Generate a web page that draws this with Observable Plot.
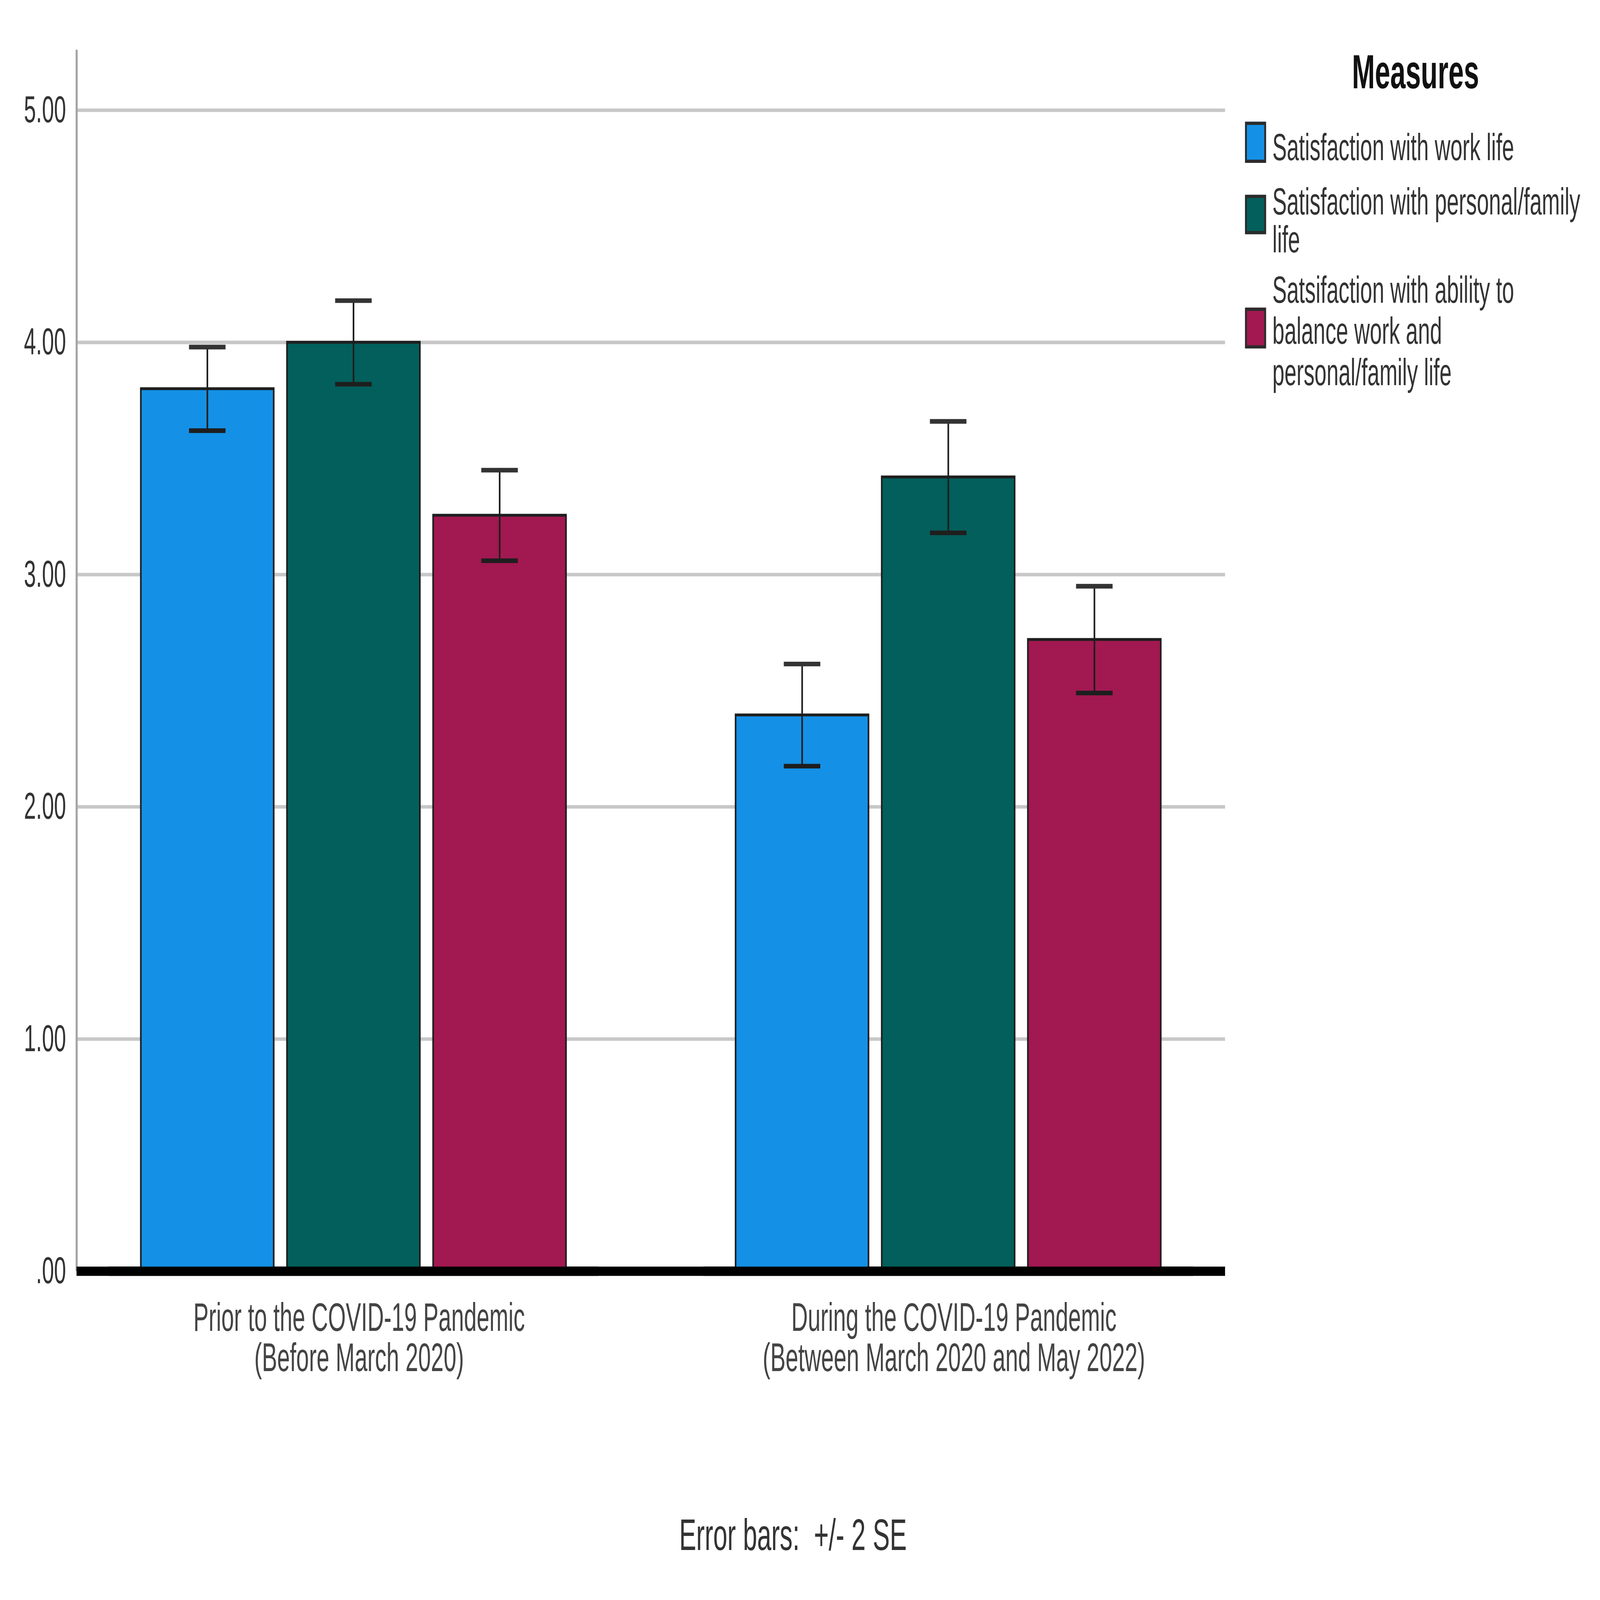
<!DOCTYPE html>
<html>
<head>
<meta charset="utf-8">
<script src="https://cdn.jsdelivr.net/npm/d3@7"></script>
<script src="https://cdn.jsdelivr.net/npm/@observablehq/plot@0.6"></script>
<style>
  html, body { margin: 0; padding: 0; background: #fff; overflow: hidden; }
  #stage { position: relative; overflow: hidden; }
  #wrap { position: absolute; left: 0; top: 0; width: 7839px; height: 4509px; transform-origin: 0 0; font-family: "Liberation Sans", Arial, sans-serif; background: #fff; }
  #wrap > svg { position: absolute; left: 0; top: 0; max-width: none !important; }
  .legend-title { position: absolute; left: 6535px; width: 800px; top: 135px; text-align: center; font-weight: bold; font-size: 135px; line-height: 135px; color: #111; }
  .swatch { position: absolute; left: 6100px; width: 103px; box-sizing: border-box; border: 9px solid #2b2b2b; }
  .legend-text { position: absolute; left: 6234px; font-size: 106px; color: #333; white-space: pre-line; }
  .caption { position: absolute; left: 2885px; width: 2000px; top: 4262px; text-align: center; font-size: 125px; line-height: 125px; color: #333; white-space: pre; }
</style>
</head>
<body>
<div id="stage"><div id="wrap"></div></div>
<script>
// ---- data ----
const periods = ["Prior", "During"];
const periodLabels = [
  "Prior to the COVID-19 Pandemic\n(Before March 2020)",
  "During the COVID-19 Pandemic\n(Between March 2020 and May 2022)"
];
const measures = [
  "Satisfaction with work life",
  "Satisfaction with personal/family\nlife",
  "Satsifaction with ability to\nbalance work and\npersonal/family life"
];
const colors = ["#1491e6", "#025f5b", "#a21851"];
const priorMeans = [3.80, 4.00, 3.255];
const duringMeans = [2.395, 3.42, 2.72];
const priorErr = [0.18, 0.18, 0.195];   // 2 SE
const duringErr = [0.22, 0.24, 0.23];   // 2 SE
const yTicks = [0, 1, 2, 3, 4, 5];
const yMax = 5.26;
const captionText = "Error bars:  +/- 2 SE";
const legendTitle = "Measures";

// ---- table built from arrays ----
const rows = [];
periods.forEach((p, i) => {
  const m = i === 0 ? priorMeans : duringMeans;
  const e = i === 0 ? priorErr : duringErr;
  measures.forEach((k, j) => rows.push({period: p, measure: k, mean: m[j], lo: m[j] - e[j], hi: m[j] + e[j]}));
});

// ---- layout (design space 7839 x 4509) ----
const W = 6100, H = 3990;
const mL = 375, mR = 98, mT = 140, mB = H - 3582;
const font = "'Liberation Sans', Arial, sans-serif";
const ink = "#1e1e1e";

const bg = Plot.plot({
  width: W, height: H,
  marginLeft: mL, marginRight: mR, marginTop: mT, marginBottom: mB,
  style: {fontFamily: font, background: "transparent", overflow: "visible"},
  x: {domain: [0, 1], axis: null},
  y: {domain: [0, yMax], axis: null},
  marks: [
    Plot.ruleY(yTicks.filter(d => d > 0), {stroke: "#c8c8c8", strokeWidth: 10}),
    Plot.ruleX([0], {stroke: "#a3a3a3", strokeWidth: 10}),
    Plot.axisY(yTicks, {
      tickSize: 0, tickPadding: 52, fontSize: 106, fill: "#333",
      tickFormat: d => d === 0 ? ".00" : d.toFixed(2), label: null
    }),
    Plot.ruleY([0], {stroke: "#000", strokeWidth: 26})
  ]
});

const fg = Plot.plot({
  width: W, height: H,
  marginLeft: mL, marginRight: mR, marginTop: mT, marginBottom: mB,
  style: {fontFamily: font, background: "transparent", overflow: "visible"},
  fx: {domain: periods, paddingInner: 0.1764, paddingOuter: 0.0537, label: null},
  x: {domain: measures, paddingInner: 0.0907, paddingOuter: 0.219, axis: null},
  y: {domain: [0, yMax], axis: null},
  color: {domain: measures, range: colors},
  marks: [
    Plot.barY(rows, {fx: "period", x: "measure", y: "mean", fill: "measure", stroke: ink, strokeWidth: 8}),
    Plot.ruleX(rows, {fx: "period", x: "measure", y1: "lo", y2: "hi", stroke: ink, strokeWidth: 8}),
    Plot.tickY(rows, {fx: "period", x: "measure", y: "hi", insetLeft: 236, insetRight: 236, stroke: "#333", strokeWidth: 13}),
    Plot.tickY(rows, {fx: "period", x: "measure", y: "lo", insetLeft: 236, insetRight: 236, stroke: ink, strokeWidth: 13}),
    Plot.ruleY([0], {stroke: "#000", strokeWidth: 26}),
    Plot.axisFx({
      anchor: "bottom", tickSize: 0, tickPadding: 88, fontSize: 112, lineHeight: 1.01,
      fill: "#444", label: null, dx: 27,
      tickFormat: p => periodLabels[periods.indexOf(p)]
    })
  ]
});

const wrap = document.getElementById("wrap");
wrap.appendChild(bg);
wrap.appendChild(fg);

// ---- legend (HTML) ----
const title = document.createElement("div");
title.className = "legend-title";
title.textContent = legendTitle;
wrap.appendChild(title);

const swatchBoxes = [[343, 116], [549, 111], [867, 115]];
const textBoxes = [[358, 112], [514, 107], [758, 116]];
measures.forEach((m, i) => {
  const s = document.createElement("div");
  s.className = "swatch";
  s.style.top = swatchBoxes[i][0] + "px";
  s.style.height = swatchBoxes[i][1] + "px";
  s.style.background = colors[i];
  wrap.appendChild(s);
  const t = document.createElement("div");
  t.className = "legend-text";
  t.style.top = textBoxes[i][0] + "px";
  t.style.lineHeight = textBoxes[i][1] + "px";
  t.textContent = m;
  wrap.appendChild(t);
});

const cap = document.createElement("div");
cap.className = "caption";
cap.textContent = captionText;
wrap.appendChild(cap);

// ---- fill the window with the 7839 x 4509 design ----
function fit() {
  const vw = document.documentElement.clientWidth || window.innerWidth;
  const vh = document.documentElement.clientHeight || window.innerHeight;
  const sx = vw / 7839, sy = vh / 4509;
  const stage = document.getElementById("stage");
  stage.style.width = vw + "px";
  stage.style.height = vh + "px";
  wrap.style.transform = "scale(" + sx + "," + sy + ")";
}
fit();
window.addEventListener("resize", fit);
</script>
</body>
</html>
